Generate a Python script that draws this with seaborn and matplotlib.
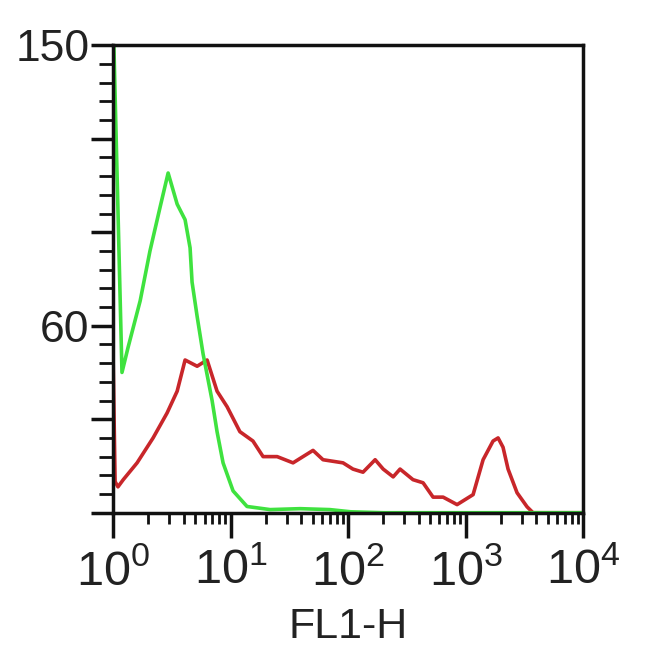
import seaborn as sns
import matplotlib.pyplot as plt
import matplotlib.ticker as mticker
import pandas as pd

# Curva verde (control) - FL1-H y cuentas
verde_x = [1.0, 1.19, 1.34, 1.70, 2.06, 2.51, 2.94, 3.51, 4.10, 4.52, 4.70, 5.19,
           5.83, 6.96, 7.67, 8.63, 10.5, 13.8, 21.7, 39.0, 70.0, 105.0, 200.0, 10000.0]
verde_y = [160, 45, 53, 68, 84, 98, 109, 99, 94, 85, 74, 63,
           51, 36, 26, 16, 7, 2, 1, 1.3, 1, 0.3, 0, 0]

# Curva roja (muestra)
rojo_x = [1.0, 1.04, 1.10, 1.22, 1.60, 2.19, 2.88, 3.51, 4.10, 5.19, 6.31, 7.67, 9.34,
          12.0, 15.5, 18.9, 24.9, 34.0, 50.3, 61.2, 90.6, 110, 134, 170, 199,
          242, 277, 357, 435, 529, 644, 847, 1159, 1410, 1714, 1892, 2084,
          2300, 2744, 3337, 3752, 10000]
rojo_y = [50, 10, 8.3, 10.6, 16, 24, 32, 39, 49, 47, 49, 39, 34,
          26, 23, 18, 18, 16, 20, 17, 16, 14, 13, 17, 14,
          11.5, 14, 10.6, 9.6, 5, 5, 2.6, 5.8, 17, 23, 24, 21,
          14, 6.4, 1.9, 0, 0]

df_verde = pd.DataFrame({"x": verde_x, "y": verde_y})
df_rojo = pd.DataFrame({"x": rojo_x, "y": rojo_y})

sns.set_style("ticks")
plt.rcParams['font.family'] = ['Liberation Sans', 'DejaVu Sans']

fig = plt.figure(figsize=(6.5, 6.65), dpi=100)
ax = fig.add_axes([0.174, 0.229, 0.723, 0.703])

sns.lineplot(data=df_rojo, x="x", y="y", color="#c8262a", linewidth=2.6, sort=False, ax=ax)
sns.lineplot(data=df_verde, x="x", y="y", color="#3fe23f", linewidth=2.6, sort=False, ax=ax)

ax.set_xscale("log")
ax.set_xlim(1, 10000)
ax.set_ylim(0, 150)

ax.xaxis.set_major_locator(mticker.LogLocator(base=10, numticks=10))
ax.xaxis.set_minor_locator(mticker.LogLocator(base=10, subs=range(2, 10), numticks=50))
ax.xaxis.set_major_formatter(mticker.LogFormatterMathtext())
ax.xaxis.set_minor_formatter(mticker.NullFormatter())

ax.yaxis.set_major_locator(mticker.MultipleLocator(30))
ax.yaxis.set_minor_locator(mticker.MultipleLocator(6))
ax.yaxis.set_major_formatter(mticker.FuncFormatter(
    lambda v, p: str(int(v)) if int(round(v)) in (60, 150) else ''))

for lado in ax.spines.values():
    lado.set_linewidth(2.5)
    lado.set_color("#111111")

ax.tick_params(axis='x', which='major', length=18, width=2.5, labelsize=35,
               colors='#111111', labelcolor='#222222', pad=8)
ax.tick_params(axis='x', which='minor', length=8, width=2, colors='#111111')
ax.tick_params(axis='y', which='major', length=16, width=2.5, labelsize=32,
               colors='#111111', labelcolor='#222222', pad=1)
ax.tick_params(axis='y', which='minor', length=10, width=2, colors='#111111')

ax.set_xlabel("FL1-H", fontsize=31, color='#222222', labelpad=9)
ax.set_ylabel("")

fig.savefig("out.png", dpi=100, facecolor="white")
